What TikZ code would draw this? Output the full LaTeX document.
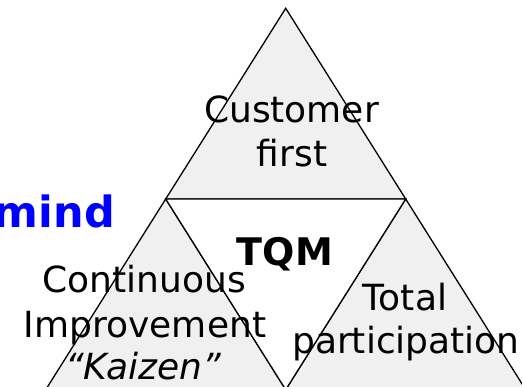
\documentclass[tikz,border=0pt]{standalone}
\usepackage{fontspec}
\setmainfont{DejaVu Sans}
\usepackage{tikz}

\definecolor{pillarfill}{HTML}{F0F0F0}
\definecolor{mindblue}{HTML}{0000FF}

\tikzset{
  part/.style={draw=black, line width=1.3pt, line join=miter, fill=pillarfill},
  core/.style={draw=black, line width=1.3pt, fill=white},
  label/.style={align=center, font=\fontsize{36}{44}\selectfont, inner sep=0pt},
}

\begin{document}
\begin{tikzpicture}[x=1pt, y=1pt]
  \useasboundingbox (0,0) rectangle (522,386);
  \clip (0,0) rectangle (522,386);

  % Corners
  \coordinate (apex) at (285.7,377.7);
  \coordinate (midL) at (165.7,187);
  \coordinate (midR) at (405.7,187);
  \coordinate (botL) at (45.7,-3.7);
  \coordinate (botM) at (285.7,-3.7);
  \coordinate (botR) at (525.7,-3.7);

  % Triangles
  \path[part] (apex) -- (midL) -- (midR) -- cycle;
  \path[part] (midL) -- (botL) -- (botM) -- cycle;
  \path[part] (midR) -- (botM) -- (botR) -- cycle;
  \path[core] (midL) -- (midR) -- (botM) -- cycle;

  % Texts
  \node[label, anchor=base] (customer) at (291.5,263) {Customer};
  \node[label, anchor=base] (first) at (292,219) {first};
  \node[label, anchor=base, font=\fontsize{38}{44}\selectfont\bfseries] (tqm) at (285,121) {TQM};
  \node[label, anchor=base] (continuous) at (144.5,94) {Continuous};
  \node[label, anchor=base] (improvement) at (145,49) {Improvement};
  \node[label, anchor=base] (kaizen) at (143,7) {\itshape “Kaizen”};
  \node[label, anchor=base] (total) at (405,76) {Total};
  \node[label, anchor=base] (participation) at (406,33) {participation};
  \node[label, anchor=base east, text=mindblue, font=\fontsize{43}{44}\selectfont\bfseries] (mind) at (115,158.5) {mind};
\end{tikzpicture}
\end{document}
